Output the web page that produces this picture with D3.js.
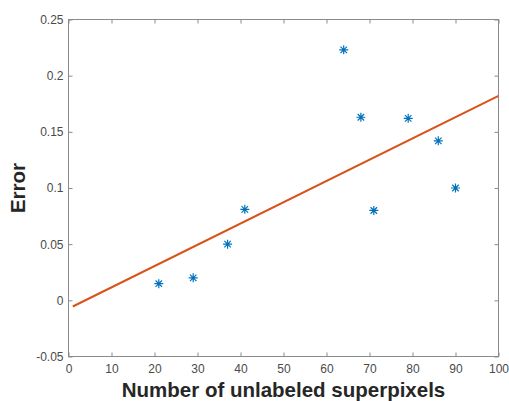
<!DOCTYPE html>
<html>
<head>
<meta charset="utf-8">
<script src="https://cdn.jsdelivr.net/npm/d3@7"></script>
<style>
  body { margin: 0; background: #fff; }
  svg { display: block; font-family: "Liberation Sans", Arial, sans-serif; }
</style>
</head>
<body>
<svg id="chart" width="509" height="401"></svg>
<script>
// scatter points
var superpixels = [21, 29, 37, 41, 64, 68, 71, 79, 86, 90];
var errors = [0.0148, 0.020, 0.050, 0.081, 0.223, 0.163, 0.080, 0.162, 0.142, 0.100];
// fitted line endpoints
var fitX = [1, 100];
var fitY = [-0.0055, 0.182];

var xTicks = [0, 10, 20, 30, 40, 50, 60, 70, 80, 90, 100];
var yTicks = [-0.05, 0, 0.05, 0.1, 0.15, 0.2, 0.25];

var plotLeft = 68.5, plotRight = 498.5, plotTop = 19.5, plotBottom = 356.5;

var svg = d3.select("#chart");

var x = d3.scaleLinear().domain([0, 100]).range([plotLeft, plotRight]);
var y = d3.scaleLinear().domain([-0.05, 0.25]).range([plotBottom, plotTop]);

var axisColor = "#8a8a8a";
var textColor = "#4a4a4a";

// box
svg.append("rect")
    .attr("x", plotLeft).attr("y", plotTop)
    .attr("width", plotRight - plotLeft).attr("height", plotBottom - plotTop)
    .attr("fill", "none")
    .attr("stroke", axisColor)
    .attr("stroke-width", 1);

function styleAxis(g) {
    g.select(".domain").remove();
    g.selectAll(".tick line").attr("stroke", axisColor);
    g.selectAll(".tick text")
        .attr("fill", textColor)
        .attr("font-size", 12);
}

// bottom axis
svg.append("g")
    .attr("transform", "translate(0," + plotBottom + ")")
    .call(d3.axisBottom(x).tickValues(xTicks).tickSizeInner(-4).tickSizeOuter(0).tickPadding(8))
    .call(styleAxis);

// top ticks
svg.append("g")
    .attr("transform", "translate(0," + plotTop + ")")
    .call(d3.axisTop(x).tickValues(xTicks).tickSizeInner(-4).tickSizeOuter(0).tickFormat(""))
    .call(styleAxis);

// left axis
svg.append("g")
    .attr("transform", "translate(" + plotLeft + ",0)")
    .call(d3.axisLeft(y).tickValues(yTicks).tickSizeInner(-4).tickSizeOuter(0).tickPadding(5)
        .tickFormat(function (d) { return String(+d.toFixed(2)); }))
    .call(styleAxis);

// right ticks
svg.append("g")
    .attr("transform", "translate(" + plotRight + ",0)")
    .call(d3.axisRight(y).tickValues(yTicks).tickSizeInner(-4).tickSizeOuter(0).tickFormat(""))
    .call(styleAxis);

// fitted line
var line = d3.line()
    .x(function (d) { return x(d[0]); })
    .y(function (d) { return y(d[1]); });

svg.append("path")
    .attr("d", line(d3.zip(fitX, fitY)))
    .attr("fill", "none")
    .attr("stroke", "#D95319")
    .attr("stroke-width", 2);

// asterisk markers
var r = 4.5, rd = r * 0.72;
var star = "M" + (-r) + ",0L" + r + ",0M0," + (-r) + "L0," + r +
    "M" + (-rd) + "," + (-rd) + "L" + rd + "," + rd +
    "M" + (-rd) + "," + rd + "L" + rd + "," + (-rd);

svg.append("g")
    .selectAll("path")
    .data(d3.zip(superpixels, errors))
    .enter()
    .append("path")
    .attr("transform", function (d) { return "translate(" + x(d[0]) + "," + y(d[1]) + ")"; })
    .attr("d", star)
    .attr("fill", "none")
    .attr("stroke", "#0072BD")
    .attr("stroke-width", 1.2);

// axis labels
svg.append("text")
    .attr("x", (plotLeft + plotRight) / 2)
    .attr("y", 397)
    .attr("text-anchor", "middle")
    .attr("font-size", 20.5)
    .attr("font-weight", "bold")
    .attr("fill", "#262626")
    .text("Number of unlabeled superpixels");

svg.append("text")
    .attr("transform", "translate(25," + ((plotTop + plotBottom) / 2) + ") rotate(-90)")
    .attr("text-anchor", "middle")
    .attr("font-size", 20.5)
    .attr("font-weight", "bold")
    .attr("fill", "#262626")
    .text("Error");
</script>
</body>
</html>
